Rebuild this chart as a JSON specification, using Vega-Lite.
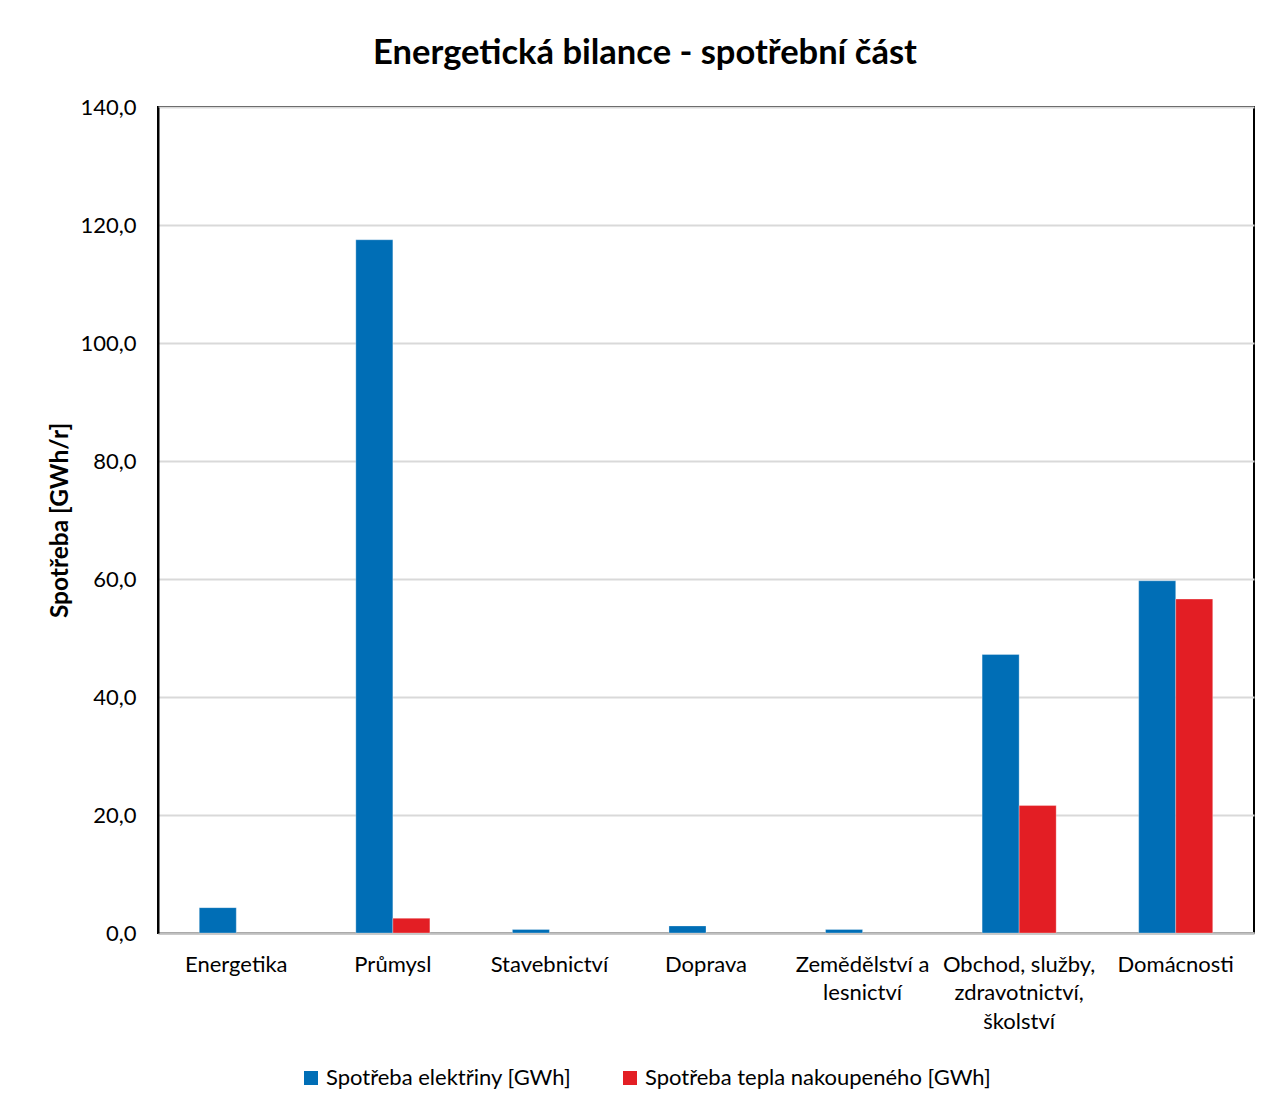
{
  "$schema": "https://vega.github.io/schema/vega-lite/v6.json",
  "width": 1096,
  "height": 826,
  "autosize": {"type": "none"},
  "padding": {"left": 158, "top": 107, "right": 28, "bottom": 175},
  "background": "white",
  "title": {
    "text": "Energetická bilance - spotřební část",
    "font": "Lato",
    "fontSize": 34.5,
    "fontWeight": "bold",
    "color": "#000000",
    "anchor": "middle",
    "dx": -61,
    "offset": 25
  },
  "data": {
    "values": [
      {"sektor": "Energetika", "rada": "Spotřeba elektřiny [GWh]", "hodnota": 4.3},
      {"sektor": "Průmysl", "rada": "Spotřeba elektřiny [GWh]", "hodnota": 117.5},
      {"sektor": "Průmysl", "rada": "Spotřeba tepla nakoupeného [GWh]", "hodnota": 2.5},
      {"sektor": "Stavebnictví", "rada": "Spotřeba elektřiny [GWh]", "hodnota": 0.6},
      {"sektor": "Doprava", "rada": "Spotřeba elektřiny [GWh]", "hodnota": 1.2},
      {"sektor": "Zemědělství a lesnictví", "rada": "Spotřeba elektřiny [GWh]", "hodnota": 0.6},
      {"sektor": "Obchod, služby, zdravotnictví, školství", "rada": "Spotřeba elektřiny [GWh]", "hodnota": 47.2},
      {"sektor": "Obchod, služby, zdravotnictví, školství", "rada": "Spotřeba tepla nakoupeného [GWh]", "hodnota": 21.6},
      {"sektor": "Domácnosti", "rada": "Spotřeba elektřiny [GWh]", "hodnota": 59.7},
      {"sektor": "Domácnosti", "rada": "Spotřeba tepla nakoupeného [GWh]", "hodnota": 56.6}
    ]
  },
  "mark": {"type": "bar", "stroke": "#FFFFFF", "strokeOpacity": 0.5, "strokeWidth": 0.6},
  "encoding": {
    "x": {
      "field": "sektor",
      "type": "nominal",
      "sort": ["Energetika", "Průmysl", "Stavebnictví", "Doprava", "Zemědělství a lesnictví", "Obchod, služby, zdravotnictví, školství", "Domácnosti"],
      "scale": {"paddingInner": 0.527, "paddingOuter": 0.2635},
      "axis": {
        "title": null,
        "labelAngle": 0,
        "labelFont": "Lato",
        "labelFontSize": 22,
        "labelColor": "#000000",
        "labelPadding": 21,
        "labelLineHeight": 28.5,
        "labelLimit": 300,
        "labelBaseline": "top",
        "ticks": false,
        "domainColor": "#BFBFBF",
        "domainWidth": 2.5,
        "labelExpr": "datum.value == 'Zemědělství a lesnictví' ? ['Zemědělství a', 'lesnictví'] : datum.value == 'Obchod, služby, zdravotnictví, školství' ? ['Obchod, služby,', 'zdravotnictví,', 'školství'] : datum.label"
      }
    },
    "xOffset": {
      "field": "rada",
      "type": "nominal",
      "sort": ["Spotřeba elektřiny [GWh]", "Spotřeba tepla nakoupeného [GWh]"],
      "scale": {"domain": ["Spotřeba elektřiny [GWh]", "Spotřeba tepla nakoupeného [GWh]"], "paddingInner": 0, "paddingOuter": 0}
    },
    "y": {
      "field": "hodnota",
      "type": "quantitative",
      "scale": {"domain": [0, 140], "nice": false},
      "axis": {
        "title": "Spotřeba [GWh/r]",
        "titleFont": "Lato",
        "titleFontSize": 24.5,
        "titleFontWeight": "bold",
        "titleColor": "#000000",
        "titlePadding": 7,
        "values": [0, 20, 40, 60, 80, 100, 120, 140],
        "labelExpr": "replace(format(datum.value, '.1f'), '.', ',')",
        "labelFont": "Lato",
        "labelFontSize": 22,
        "labelColor": "#000000",
        "labelPadding": 22,
        "ticks": false,
        "domainColor": "#000000",
        "domainWidth": 2,
        "grid": true,
        "gridColor": "#D9D9D9",
        "gridWidth": 2
      }
    },
    "color": {
      "field": "rada",
      "type": "nominal",
      "scale": {"domain": ["Spotřeba elektřiny [GWh]", "Spotřeba tepla nakoupeného [GWh]"], "range": ["#006EB6", "#E31E24"]},
      "legend": {
        "title": null,
        "orient": "none",
        "direction": "horizontal",
        "legendX": 142,
        "legendY": 960,
        "symbolType": "square",
        "symbolSize": 196,
        "symbolStrokeWidth": 0,
        "labelFont": "Lato",
        "labelFontSize": 22,
        "labelColor": "#000000",
        "labelOffset": 4,
        "labelLimit": 400,
        "columnPadding": 47
      }
    }
  },
  "config": {
    "view": {"stroke": "#000000", "strokeWidth": 2}
  }
}
